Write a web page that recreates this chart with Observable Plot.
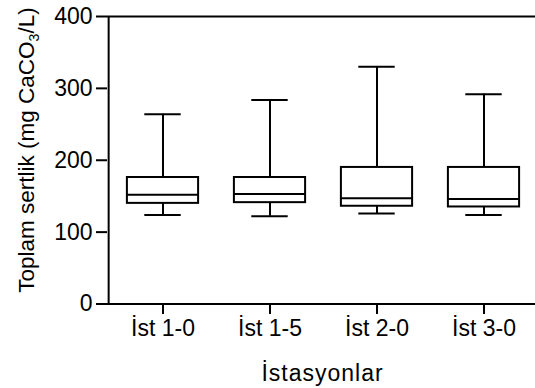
<!DOCTYPE html>
<html>
<head>
<meta charset="utf-8">
<script src="https://cdn.jsdelivr.net/npm/d3@7"></script>
<script src="https://cdn.jsdelivr.net/npm/@observablehq/plot@0.6"></script>
<style>
  html, body { margin: 0; padding: 0; background: #fff; }
  svg { display: block; }
</style>
</head>
<body>
<div id="chart"></div>
<script>
const stations = ["İst 1-0", "İst 1-5", "İst 2-0", "İst 3-0"];
const whiskerLow = [124, 122, 126, 124];
const q1 = [140, 141, 136, 135];
const median = [152, 153, 147, 146];
const q3 = [176, 176, 190, 190];
const whiskerHigh = [264, 284, 330, 292];
const yTicks = [0, 100, 200, 300, 400];
const xTitle = "İstasyonlar";
const yTitleMain = "Toplam sertlik (mg CaCO";
const yTitleSub = "3";
const yTitleEnd = "/L)";

const rows = stations.map((s, i) => ({
  s, lo: whiskerLow[i], q1: q1[i], med: median[i], q3: q3[i], hi: whiskerHigh[i]
}));

const font = "'Liberation Sans', Arial, Helvetica, sans-serif";
const W = 535, H = 388;
const sw = 2;
const fs = 23;

const plot = Plot.plot({
  width: W,
  height: H,
  marginLeft: 107,
  marginRight: 0,
  marginTop: 16,
  marginBottom: 85,
  style: { fontFamily: font, fontSize: fs + "px", color: "#000", background: "#fff", overflow: "visible" },
  x: { domain: stations, range: [107.7, 538.5], padding: 0, label: null },
  y: { domain: [0, 400], range: [303.5, 16], label: null },
  marks: [
    Plot.ruleX(rows, { x: "s", y1: "q3", y2: "hi", stroke: "#000", strokeWidth: sw }),
    Plot.ruleX(rows, { x: "s", y1: "lo", y2: "q1", stroke: "#000", strokeWidth: sw }),
    Plot.tickY(rows, { x: "s", y: "hi", stroke: "#000", strokeWidth: sw, insetLeft: 35.3, insetRight: 35.3 }),
    Plot.tickY(rows, { x: "s", y: "lo", stroke: "#000", strokeWidth: sw, insetLeft: 35.3, insetRight: 35.3 }),
    Plot.barY(rows, { x: "s", y1: "q1", y2: "q3", fill: "#fff", stroke: "#000", strokeWidth: sw, insetLeft: 17.9, insetRight: 17.9 }),
    Plot.tickY(rows, { x: "s", y: "med", stroke: "#000", strokeWidth: sw, insetLeft: 17.9, insetRight: 17.9 }),
    Plot.ruleY([0], { stroke: "#000", strokeWidth: sw }),
    Plot.ruleY([400], { stroke: "#000", strokeWidth: sw }),
    Plot.ruleX([0], { x: () => stations[0], dx: -53.85 - 0.5, y1: 0, y2: 400, stroke: "#000", strokeWidth: sw }),
    Plot.axisY({ ticks: yTicks, tickSize: 11, tickPadding: 4, tickFormat: d3.format("d"), strokeWidth: sw, stroke: "#000", fill: "#000", fontSize: fs, label: null }),
    Plot.axisX({ tickSize: 11, tickPadding: 5, strokeWidth: sw, stroke: "#000", fill: "#000", fontSize: fs, label: null })
  ]
});

const svg = d3.select(plot);
svg.append("text")
  .attr("x", 322.5)
  .attr("y", 381)
  .attr("text-anchor", "middle")
  .attr("font-family", font)
  .attr("font-size", fs)
  .attr("letter-spacing", 1)
  .attr("fill", "#000")
  .text(xTitle);

const yt = svg.append("text")
  .attr("transform", "translate(34,150) rotate(-90)")
  .attr("text-anchor", "middle")
  .attr("font-family", font)
  .attr("font-size", 22.5)
  .attr("fill", "#000");
yt.append("tspan").text(yTitleMain);
yt.append("tspan").attr("font-size", 14).attr("dy", 5).text(yTitleSub);
yt.append("tspan").attr("dy", -5).text(yTitleEnd);

document.getElementById("chart").appendChild(plot);
</script>
</body>
</html>
